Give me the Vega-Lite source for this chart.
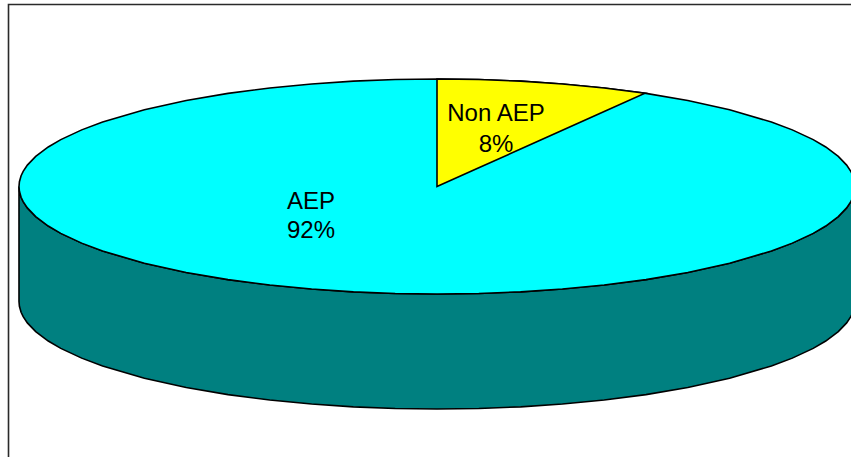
{
  "$schema": "https://vega.github.io/schema/vega-lite/v6.json",
  "width": 851,
  "height": 457,
  "padding": 0,
  "autosize": {"type": "none"},
  "background": "white",
  "view": {"stroke": null},
  "datasets": {
    "frame": [{"left": -1.0251, "right": 1.2, "upper": 1.693, "lower": -2.8}],
    "rim": [
      {"x": -1, "top": 0, "bottom": 0, "floor": -1.0698},
      {"x": -0.999, "top": 0.0447, "bottom": -0.0447, "floor": -1.1145},
      {"x": -0.995, "top": 0.0999, "bottom": -0.0999, "floor": -1.1697},
      {"x": -0.99, "top": 0.1411, "bottom": -0.1411, "floor": -1.2109},
      {"x": -0.98, "top": 0.199, "bottom": -0.199, "floor": -1.2688},
      {"x": -0.96, "top": 0.28, "bottom": -0.28, "floor": -1.3498},
      {"x": -0.93, "top": 0.3676, "bottom": -0.3676, "floor": -1.4374},
      {"x": -0.9, "top": 0.4359, "bottom": -0.4359, "floor": -1.5057},
      {"x": -0.85, "top": 0.5268, "bottom": -0.5268, "floor": -1.5966},
      {"x": -0.8, "top": 0.6, "bottom": -0.6, "floor": -1.6698},
      {"x": -0.7, "top": 0.7141, "bottom": -0.7141, "floor": -1.7839},
      {"x": -0.6, "top": 0.8, "bottom": -0.8, "floor": -1.8698},
      {"x": -0.5, "top": 0.866, "bottom": -0.866, "floor": -1.9358},
      {"x": -0.4, "top": 0.9165, "bottom": -0.9165, "floor": -1.9863},
      {"x": -0.3, "top": 0.9539, "bottom": -0.9539, "floor": -2.0237},
      {"x": -0.2, "top": 0.9798, "bottom": -0.9798, "floor": -2.0496},
      {"x": -0.1, "top": 0.995, "bottom": -0.995, "floor": -2.0648},
      {"x": 0, "top": 1, "bottom": -1, "floor": -2.0698},
      {"x": 0.1, "top": 0.995, "bottom": -0.995, "floor": -2.0648},
      {"x": 0.2, "top": 0.9798, "bottom": -0.9798, "floor": -2.0496},
      {"x": 0.3, "top": 0.9539, "bottom": -0.9539, "floor": -2.0237},
      {"x": 0.4, "top": 0.9165, "bottom": -0.9165, "floor": -1.9863},
      {"x": 0.5, "top": 0.866, "bottom": -0.866, "floor": -1.9358},
      {"x": 0.6, "top": 0.8, "bottom": -0.8, "floor": -1.8698},
      {"x": 0.7, "top": 0.7141, "bottom": -0.7141, "floor": -1.7839},
      {"x": 0.8, "top": 0.6, "bottom": -0.6, "floor": -1.6698},
      {"x": 0.85, "top": 0.5268, "bottom": -0.5268, "floor": -1.5966},
      {"x": 0.9, "top": 0.4359, "bottom": -0.4359, "floor": -1.5057},
      {"x": 0.93, "top": 0.3676, "bottom": -0.3676, "floor": -1.4374},
      {"x": 0.96, "top": 0.28, "bottom": -0.28, "floor": -1.3498},
      {"x": 0.98, "top": 0.199, "bottom": -0.199, "floor": -1.2688},
      {"x": 0.99, "top": 0.1411, "bottom": -0.1411, "floor": -1.2109},
      {"x": 0.995, "top": 0.0999, "bottom": -0.0999, "floor": -1.1697},
      {"x": 0.999, "top": 0.0447, "bottom": -0.0447, "floor": -1.1145},
      {"x": 1, "top": 0, "bottom": 0, "floor": -1.0698}
    ],
    "wedge": [
      {"x": 0, "outer": 1, "inner": 0},
      {"x": 0.1, "outer": 0.995, "inner": 0.1743},
      {"x": 0.2, "outer": 0.9798, "inner": 0.3486},
      {"x": 0.3, "outer": 0.9539, "inner": 0.5229},
      {"x": 0.4, "outer": 0.9165, "inner": 0.6972},
      {"x": 0.4976, "outer": 0.8674, "inner": 0.8674}
    ],
    "labels": [
      {"text": "Non AEP", "x": 0.1411, "y": 0.6093},
      {"text": "8%", "x": 0.1411, "y": 0.3209},
      {"text": "AEP", "x": -0.3014, "y": -0.2093},
      {"text": "92%", "x": -0.3014, "y": -0.4791}
    ]
  },
  "layer": [
    {
      "data": {"name": "frame"},
      "mark": {"type": "rect", "fill": null, "stroke": "#2a2a2a", "strokeWidth": 1.6, "clip": true},
      "encoding": {
        "x": {"field": "left", "type": "quantitative", "scale": {"domain": [-1.04545, 0.99043], "nice": false, "zero": false}, "axis": null},
        "x2": {"field": "right"},
        "y": {"field": "upper", "type": "quantitative", "scale": {"domain": [-2.5163, 1.7349], "nice": false, "zero": false}, "axis": null},
        "y2": {"field": "lower"}
      }
    },
    {
      "data": {"name": "rim"},
      "mark": {"type": "area", "fill": "#008080", "stroke": "black", "strokeWidth": 1.6, "fillOpacity": 1, "clip": true},
      "encoding": {
        "x": {"field": "x", "type": "quantitative", "axis": null},
        "y": {"field": "bottom", "type": "quantitative", "axis": null},
        "y2": {"field": "floor"}
      }
    },
    {
      "data": {"name": "rim"},
      "mark": {"type": "area", "fill": "#00FFFF", "stroke": "black", "strokeWidth": 1.6, "fillOpacity": 1, "clip": true},
      "encoding": {
        "x": {"field": "x", "type": "quantitative", "axis": null},
        "y": {"field": "top", "type": "quantitative", "axis": null},
        "y2": {"field": "bottom"}
      }
    },
    {
      "data": {"name": "wedge"},
      "mark": {"type": "area", "fill": "#FFFF00", "stroke": "black", "strokeWidth": 1.6, "fillOpacity": 1, "clip": true},
      "encoding": {
        "x": {"field": "x", "type": "quantitative", "axis": null},
        "y": {"field": "outer", "type": "quantitative", "axis": null},
        "y2": {"field": "inner"}
      }
    },
    {
      "data": {"name": "labels"},
      "mark": {"type": "text", "font": "Liberation Sans", "fontSize": 24, "color": "black", "align": "center", "baseline": "alphabetic"},
      "encoding": {
        "x": {"field": "x", "type": "quantitative", "axis": null},
        "y": {"field": "y", "type": "quantitative", "axis": null},
        "text": {"field": "text"}
      }
    }
  ]
}
